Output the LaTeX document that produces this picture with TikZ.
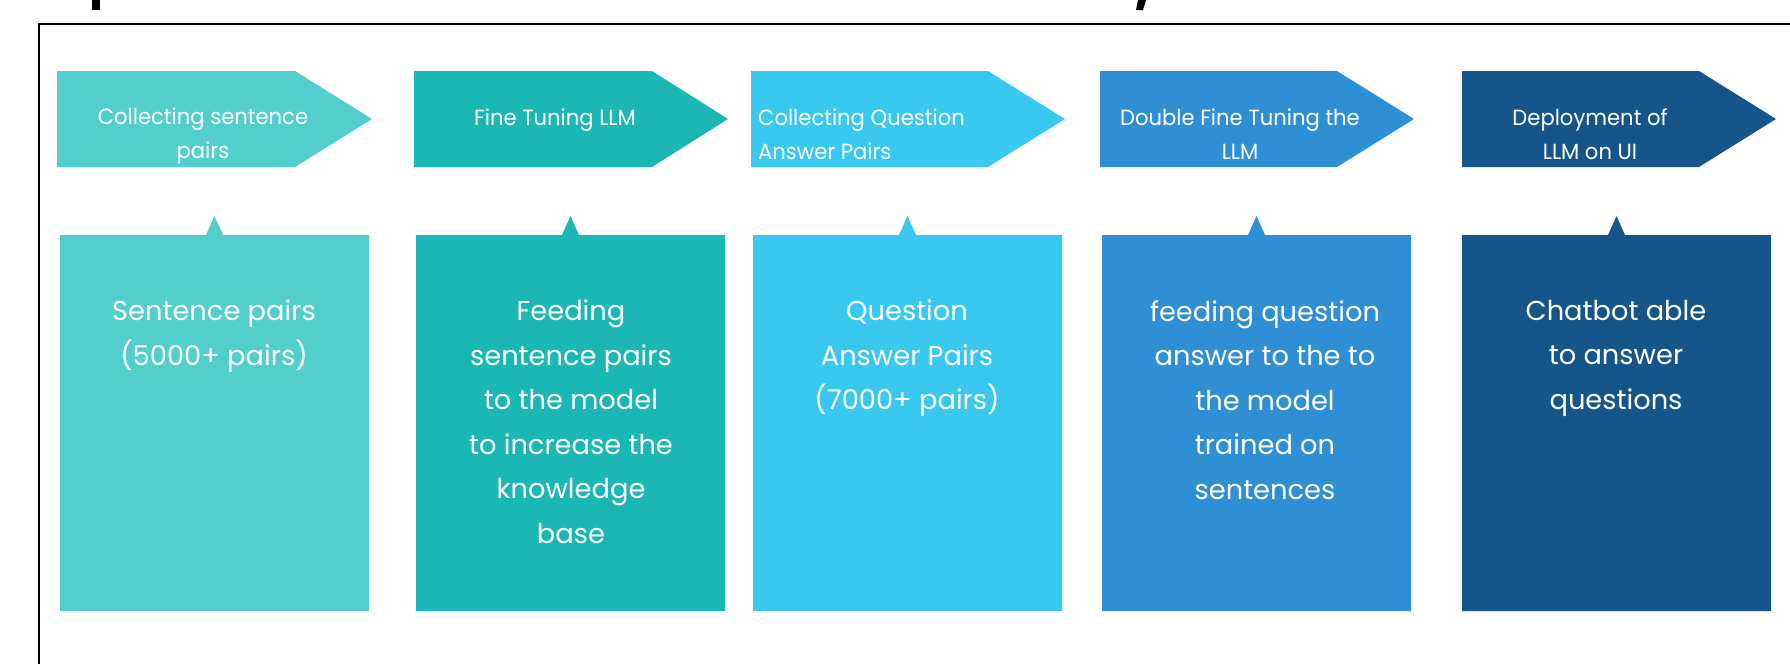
\documentclass[tikz,border=0pt]{standalone}
\usepackage{fontspec}
\setmainfont{Poppins}
\newfontfamily\headfont[FakeStretch=0.96]{Poppins}
\begin{document}
\begin{tikzpicture}[x=1pt,y=-1pt,
  headtext/.style={text=white,font=\headfont\fontsize{22}{34}\selectfont,inner sep=0pt},
  bodytext/.style={text=white,font=\fontsize{27.3}{44.5}\selectfont,inner sep=0pt,align=center,anchor=north},
  frameline/.style={line width=2.5pt,black}]
\definecolor{cA}{RGB}{82,206,204}
\definecolor{cB}{RGB}{26,183,181}
\definecolor{cC}{RGB}{56,200,240}
\definecolor{cD}{RGB}{46,143,213}
\definecolor{cE}{RGB}{22,85,137}
\useasboundingbox (0,0) rectangle (1790,664);
\fill[white] (0,0) rectangle (1790,664);

% descenders of the heading above the frame
\fill[black] (92,0) rectangle (100,10);
\fill[black] (1138,0) -- (1146,0) -- (1143,10) -- (1136,10) -- cycle;

% outer frame
\draw[frameline] (39,664) -- (39,24) -- (1790,24);

% stage arrows: left, end of body, tip, colour
\foreach \l/\r/\t/\c in {57/295/372/cA, 414/652/728/cB, 751/988/1065/cC, 1100/1337/1414/cD, 1462/1699/1776/cE}{
  \fill[\c] (\l,71) -- (\r,71) -- (\t,119) -- (\r,167) -- (\l,167) -- cycle;
}

% detail boxes with a small pointer on top
\foreach \l/\r/\c in {60/369/cA, 416/725/cB, 753/1062/cC, 1102/1411/cD, 1462/1771/cE}{
  \pgfmathsetmacro\m{(\l+\r)/2}
  \fill[\c] (\l,235) -- (\m-8.5,235) -- (\m,216) -- (\m+8.5,235) -- (\r,235) -- (\r,611) -- (\l,611) -- cycle;
}

% arrow labels
\node[headtext,align=center] (h1) at (203,135.5) {Collecting sentence\\pairs};
\node[headtext] (h2) at (555,120.5) {Fine Tuning LLM};
\node[headtext,align=left,anchor=west] (h3) at (758,134) {Collecting Question\\Answer Pairs};
\node[headtext,align=center] (h4) at (1240,134) {Double Fine Tuning the\\LLM};
\node[headtext,align=center] (h5) at (1590,134) {Deployment of\\LLM on UI};

% box texts
\node[bodytext] (b1) at (214,300) {Sentence pairs\\(5000+ pairs)};
\node[bodytext] (b2) at (571,300) {Feeding\\sentence pairs\\to the model\\to increase the\\knowledge\\base};
\node[bodytext] (b3) at (907,300) {Question\\Answer Pairs\\(7000+ pairs)};
\node[bodytext] (b4) at (1265,300) {feeding question\\answer to the to\\the model\\trained on\\sentences};
\node[bodytext] (b5) at (1616,300) {Chatbot able\\to answer\\questions};
\end{tikzpicture}
\end{document}
